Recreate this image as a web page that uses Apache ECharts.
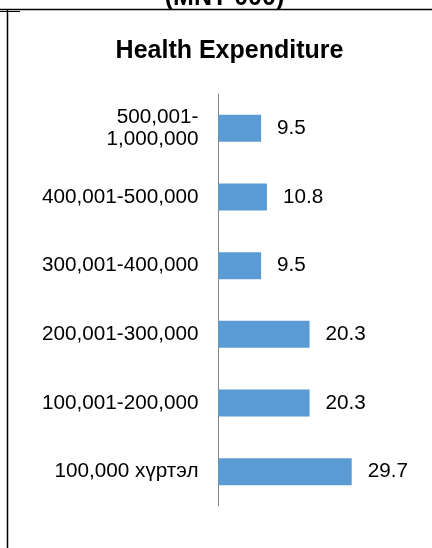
<!DOCTYPE html>
<html>
<head>
<meta charset="utf-8">
<script src="https://cdn.jsdelivr.net/npm/echarts@6/dist/echarts.min.js"></script>
<style>
  html, body { margin: 0; padding: 0; background: #fff; }
  #chart { width: 432px; height: 548px; }
</style>
</head>
<body>
<div id="chart"></div>
<script>
// Income groups (MNT 000), listed top to bottom
const categories = [
  '500,001-\n1,000,000',
  '400,001-500,000',
  '300,001-400,000',
  '200,001-300,000',
  '100,001-200,000',
  '100,000 хүртэл'
];
// Share of health expenditure, percent
const healthExpenditure = [9.5, 10.8, 9.5, 20.3, 20.3, 29.7];

const chart = echarts.init(document.getElementById('chart'), null, { renderer: 'canvas' });
const FONT = '"Liberation Sans", Arial, sans-serif';

chart.setOption({
  animation: false,
  backgroundColor: '#ffffff',
  title: {
    text: 'Health Expenditure',
    left: 224.5,
    textAlign: 'center',
    top: 34,
    textStyle: { fontFamily: FONT, fontWeight: 'bold', fontSize: 25, color: '#000' }
  },
  graphic: [
    // frame lines of the surrounding table
    { type: 'line', shape: { x1: 0, y1: 9.5, x2: 432, y2: 9.5 }, style: { stroke: '#000', lineWidth: 1.5 } },
    { type: 'line', shape: { x1: 0, y1: 11.5, x2: 20, y2: 11.5 }, style: { stroke: '#000', lineWidth: 1 } },
    { type: 'line', shape: { x1: 7.5, y1: 9, x2: 7.5, y2: 548 }, style: { stroke: '#000', lineWidth: 1.5 } },
    {
      type: 'text',
      style: {
        text: '(MNT 000)', x: 224.5, y: 11, align: 'center', verticalAlign: 'bottom',
        font: 'bold 25px "Liberation Sans", Arial, sans-serif', fill: '#000'
      }
    }
  ],
  grid: { left: 218.5, top: 94, width: 157, height: 412, containLabel: false },
  xAxis: {
    type: 'value', min: 0, max: 35, show: false
  },
  yAxis: {
    type: 'category',
    data: categories,
    inverse: true,
    axisLine: { show: true, lineStyle: { color: '#868686', width: 1 } },
    axisTick: { show: false },
    axisLabel: {
      margin: 20, fontFamily: FONT, fontSize: 20.7, color: '#000', lineHeight: 22.5, align: 'right'
    }
  },
  series: [{
    type: 'bar',
    data: healthExpenditure,
    barWidth: 27,
    itemStyle: { color: '#5B9BD5' },
    label: {
      show: true, position: 'right', distance: 16,
      fontFamily: FONT, fontSize: 20.7, color: '#000',
      formatter: p => p.value.toFixed(1)
    }
  }]
});
</script>
</body>
</html>
